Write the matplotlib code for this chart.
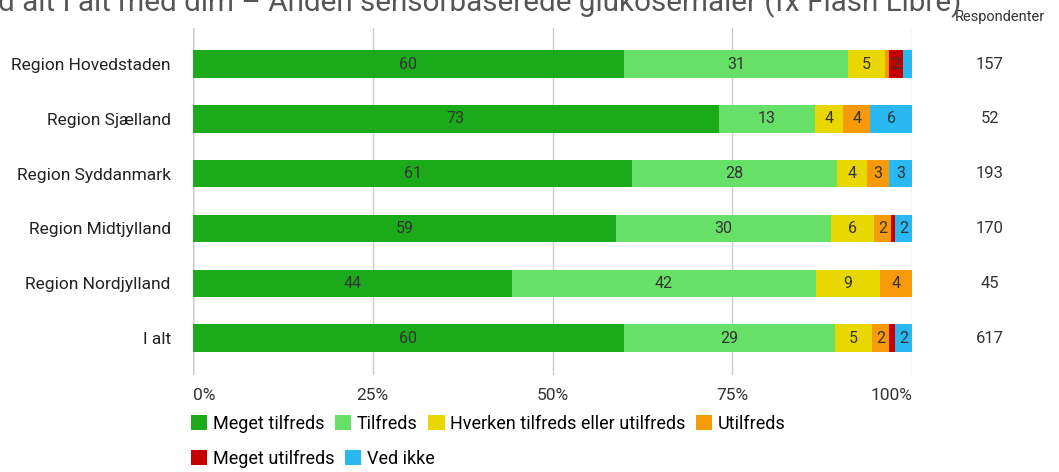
import matplotlib.pyplot as plt
import matplotlib.transforms as mtransforms
import numpy as np

plt.rcParams['font.family'] = ['Roboto', 'DejaVu Sans']

# ================== DATA ==================
regions = ["Region Hovedstaden", "Region Sjælland", "Region Syddanmark",
           "Region Midtjylland", "Region Nordjylland", "I alt"]
respondents = [157, 52, 193, 170, 45, 617]
categories = ["Meget tilfreds", "Tilfreds", "Hverken tilfreds eller utilfreds",
              "Utilfreds", "Meget utilfreds", "Ved ikke"]
meget_tilfreds = [59.9, 73.1, 61.1, 58.8, 44.4, 59.9]
tilfreds = [31.2, 13.4, 28.5, 30.0, 42.2, 29.4]
hverken = [5.1, 3.9, 4.1, 5.9, 8.9, 5.2]
utilfreds = [0.6, 3.8, 3.1, 2.4, 4.5, 2.3]
meget_utilfreds = [1.9, 0.0, 0.0, 0.6, 0.0, 0.8]
ved_ikke = [1.3, 5.8, 3.2, 2.3, 0.0, 2.4]
title = "d alt I alt med dim – Anden sensorbaserede glukosemåler (fx Flash Libre)"

colors = ["#1aaa1a", "#66e066", "#e8d800", "#f79a0a", "#c40000", "#29b8ef"]
series = [meget_tilfreds, tilfreds, hverken, utilfreds, meget_utilfreds, ved_ikke]

# ================== PLOT ==================
fig = plt.figure(figsize=(10.59, 4.72), dpi=100)
ax = fig.add_axes([193 / 1059, 1 - 375 / 472, 719 / 1059, 347 / 472])

y = np.arange(len(regions))
left = np.zeros(len(regions))
for name, vals, col in zip(categories, series, colors):
    vals = np.array(vals)
    ax.barh(y, vals, left=left, height=0.5, color=col, label=name, zorder=2)
    for yi, l, v in zip(y, left, vals):
        if round(v) >= 2:
            ax.text(l + v / 2, yi, f"{round(v)}", ha="center", va="center",
                    fontsize=11.5, color="#333333", zorder=3)
    left += vals

ax.set_xlim(0, 100)
ax.set_ylim(5.675, -0.66)
ax.set_xticks([0, 25, 50, 75, 100])
ax.set_xticklabels(["0%", "25%", "50%", "75%", "100%"], fontsize=12.5, color="#333333")
xt = ax.get_xticklabels()
xt[0].set_ha("left")
xt[-1].set_ha("right")
ax.set_yticks(y)
ax.set_yticklabels(regions, fontsize=12.5, color="#222222")
ax.tick_params(axis="x", length=0, pad=9)
ax.tick_params(axis="y", length=0, pad=16)
ax.grid(axis="x", color="#cccccc", linewidth=1, zorder=0)
for s in ax.spines.values():
    s.set_visible(False)
ax.axvline(0, color="#888888", linewidth=1, zorder=1)

# respondenter
trans = mtransforms.blended_transform_factory(fig.transFigure, ax.transData)
for yi, n in zip(y, respondents):
    ax.text(990 / 1059, yi, str(n), transform=trans, fontsize=12,
            color="#333333", ha="center", va="center")
fig.text(1000 / 1059, 1 - 17 / 472, "Respondenter", fontsize=10.5, color="#333333",
         ha="center", va="center")

# cut title
fig.text(-2 / 1059, 1 - 11 / 472, title, fontsize=21.3, color="#555555",
         ha="left", va="baseline")

# legend
handles, labels = ax.get_legend_handles_labels()
kw = dict(loc="center left", frameon=False, fontsize=13, handlelength=0.9,
          handleheight=0.9, handletextpad=0.3, columnspacing=0.6, borderaxespad=0,
          borderpad=0)
fig.legend(handles[:4], labels[:4], ncol=4,
           bbox_to_anchor=(191 / 1059, 1 - 424 / 472), **kw)
fig.legend(handles[4:], labels[4:], ncol=2,
           bbox_to_anchor=(191 / 1059, 1 - 459 / 472), **kw)

fig.savefig("out.png", dpi=100)
